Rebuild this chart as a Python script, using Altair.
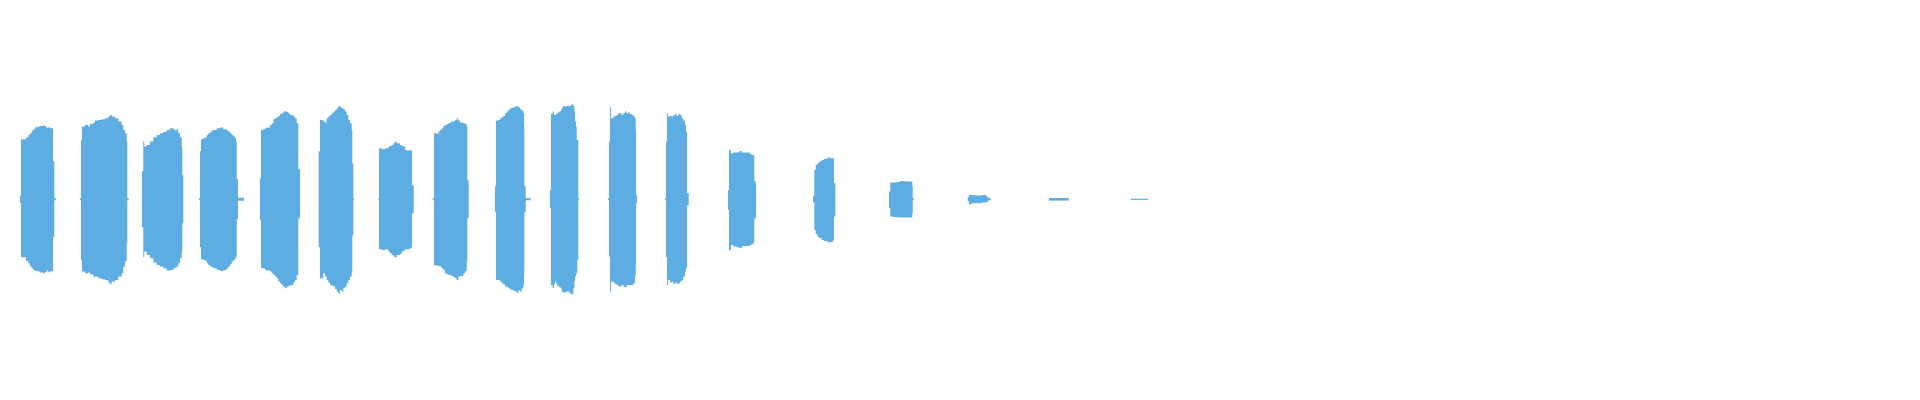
import altair as alt
import pandas as pd

# Waveform bursts.
# Each burst: start times of successive columns (step-after), upper and lower envelope magnitudes.
TIMES = [
    [20, 21, 26, 28.3, 30, 31.7, 33.3, 35, 38.3, 40, 43.3, 45, 46.7, 48.3, 50, 53, 54.3, 56],
    [80, 81, 82, 85, 88.3, 90, 93.3, 95, 98.3, 101.7, 105, 108.3, 110, 111.7, 115, 118.3, 121.7, 123.3, 125, 126.7, 127.3, 128.7],
    [142, 143.3, 144.3, 146.7, 150, 153.3, 156.7, 160, 163.3, 166.7, 170, 173.3, 175, 176.7, 178.3, 180, 181.7, 182.3, 183.3],
    [199, 200, 201, 203.3, 205, 206.7, 208.3, 210, 211.7, 213.3, 216.7, 220, 223.3, 226.7, 228.3, 230, 231.7, 233.3, 235, 236, 236.7, 238, 244],
    [260, 261, 263.3, 265, 266.7, 270, 271.7, 273.3, 275, 276.7, 278.3, 280, 281.7, 283.3, 285, 286.7, 288.3, 290, 291.7, 293.3, 295, 296.7, 298.3, 300],
    [318.7, 320, 323.3, 325, 326.7, 328.3, 330, 331.7, 333.3, 335, 336.7, 338.3, 340, 341.7, 343.3, 345, 346.7, 348.3, 350, 351.7, 352.3, 353.3, 354],
    [378.3, 379, 381.7, 385, 388.3, 390, 391.7, 393.3, 395, 396.7, 400, 401.7, 403.3, 405, 406.7, 410, 411.7, 412, 413.7],
    [432.7, 434, 436.7, 438.3, 440, 441.7, 443.3, 445, 446.7, 448.3, 450, 451.7, 453.3, 455, 456.7, 458.3, 460, 463.3, 465, 466.7, 467.3, 468.7],
    [495, 496, 498.3, 500, 501.7, 503.3, 505, 506.7, 508.3, 510, 511.7, 513.3, 515, 516.7, 518.3, 520, 521.7, 523.3, 524, 524.3, 525.7, 530.7],
    [550, 551, 552.7, 554, 555, 556, 557.3, 559.3, 560.7, 561.7, 562.7, 563.3, 565, 566.7, 569.3, 570.7, 571.7, 573.3, 574.3, 575, 576, 576.7, 577.3, 578.3, 579],
    [608, 609, 610, 611, 613.3, 615, 616.7, 618.3, 620, 621.7, 623.3, 625, 626.7, 628.3, 630, 631.7, 633.3, 635, 635.7, 636, 637],
    [665, 666, 667, 668, 670, 671.7, 673.3, 675, 676.7, 678.3, 680, 681.7, 683.3, 685, 686, 687, 688.7],
    [728, 729, 731, 733.3, 736.7, 739.3, 741.7, 743.3, 746.7, 750, 751.7, 753.3, 754.3, 756],
    [813, 814.3, 815.7, 817.3, 819, 821.7, 824, 826.7, 828.3, 830, 831.7, 833.3, 834, 835.3],
    [889, 890.3, 893.3, 896.7, 900, 903.3, 906.7, 911.7, 912.3, 912.7, 914],
    [967.7, 969, 971.7, 976.7, 981.7, 986, 987.7, 988.3, 990.7],
    [1049, 1068.7],
    [1131, 1148],
]
UPPER = [
    [3.7, 60, 61.7, 64.3, 66, 68.7, 70, 72, 72.7, 73.3, 74, 72.7, 71.3, 72, 71, 38, 1, 0],
    [1, 59, 72.7, 74.3, 72.7, 75.3, 76.7, 78.7, 79.3, 80, 81, 82.7, 84.3, 82.7, 81, 77.7, 74.3, 69.3, 66, 57.7, 1, 0],
    [28, 58, 52.7, 54.3, 57.7, 62, 64.3, 66, 67.3, 69.3, 71, 70, 68.7, 70, 66, 62, 52.7, 24, 0],
    [1, 48, 60, 61, 62, 64.3, 66, 67, 68.7, 69.3, 71, 71.7, 70, 68.7, 67.7, 66, 64.3, 62.7, 61, 57.7, 20, 1.5, 0],
    [21, 69.3, 70, 71, 71.7, 74.3, 76, 80, 81, 82, 83.3, 85.3, 86, 87.7, 88, 87.3, 86, 84.3, 84.3, 82.7, 81, 76, 30, 0],
    [48, 79.3, 77.7, 76.7, 81, 82.7, 84.3, 86, 87.7, 89.3, 91, 93.3, 92, 91, 90, 87.7, 84.3, 79.3, 76, 69.3, 36, 1, 0],
    [1, 51, 50, 51, 52.7, 53.3, 54.3, 56, 57.7, 56, 54.3, 53.3, 52.7, 49.3, 48.7, 49.3, 46.7, 14, 0],
    [1, 66, 65.3, 67.7, 69.3, 71, 73.3, 74.3, 75.3, 76, 76.7, 77.7, 77.7, 79.3, 81, 78.7, 76.7, 76, 75.3, 72.7, 19, 0],
    [13, 78.7, 79.3, 81, 82, 83.3, 86, 87.7, 89.3, 91, 91.3, 92, 92.7, 93.3, 92, 90, 88.7, 86, 74.3, 13, 1, 0],
    [9, 85.3, 87.7, 84.3, 84.3, 85.3, 86.7, 87.7, 89, 91, 93.3, 93, 92.7, 93.3, 93.3, 94.3, 95, 93.3, 87.7, 77.7, 72.7, 59.3, 59.3, 1, 0],
    [1, 57.7, 92, 81, 82.7, 83.3, 84.3, 86, 86, 84.3, 86, 87.7, 86, 86.7, 85.3, 84.3, 82.7, 81, 69.3, 4, 0],
    [1, 57.7, 86, 82.7, 83.3, 82.7, 84.3, 85.3, 83.3, 85.3, 84.3, 81, 78.7, 74.3, 67.7, 6, 0],
    [9.3, 49.3, 46, 46.7, 46.7, 48.3, 46.7, 46.7, 46.7, 45.3, 44.3, 44.3, 17.7, 0],
    [3, 29.3, 34.3, 36, 37.7, 39.3, 40.3, 41, 41.7, 41, 41, 41, 16, 0],
    [7.7, 16.7, 16.7, 17.3, 18.3, 18, 17.7, 17.7, 12.7, 1, 0],
    [2, 4.3, 4, 3.7, 4.3, 2.7, 2, 1, 0],
    [1.3, 0],
    [0.6, 0],
]
LOWER = [
    [3.7, 58, 61.7, 64, 67, 69, 70.7, 71.7, 72.3, 73.3, 74, 72.7, 71.3, 73, 72, 38, 1, 0],
    [1, 61, 72.3, 74, 73.3, 75, 77.3, 77.3, 79, 80, 80.7, 83.3, 84.7, 82.3, 80.7, 77.3, 74, 67.3, 62.3, 44, 1, 0],
    [28, 58, 52.3, 55.7, 59, 63.3, 65.7, 67.3, 69, 71.3, 70.7, 69, 68.3, 67.3, 64, 59, 52.3, 24, 0],
    [1, 48, 60, 60.7, 61.3, 64, 65.7, 67.3, 68, 69, 70.7, 71.7, 70.7, 69, 67.3, 65, 62.3, 60.7, 59, 57.3, 20, 1.5, 0],
    [21, 69, 69, 70.7, 71.3, 72.3, 74, 75.7, 77.3, 79, 82.3, 84, 85.7, 87.7, 89, 87.3, 86.7, 86, 85.7, 83.3, 80.7, 75.7, 19, 0],
    [48, 79, 74, 77.3, 80.7, 83.3, 85.7, 86.3, 87.3, 89.7, 92.3, 94, 90.7, 92.3, 89, 87.3, 84, 80.7, 77.3, 72.3, 36, 1, 0],
    [1, 50, 50.7, 50, 52.3, 54, 55.7, 57.3, 58, 55.7, 54.7, 52.3, 51.3, 50, 50, 49, 45.7, 14, 0],
    [1, 66.3, 66.3, 66.7, 67.3, 69, 70.7, 74, 75, 75.7, 76, 76.7, 77.7, 79, 80.7, 77.3, 76.7, 74, 72, 61.7, 19, 0],
    [13, 80.7, 80.7, 82.3, 84, 85, 87.3, 88, 89, 90, 90.7, 91.5, 92.3, 94, 91.3, 92.3, 89, 85.7, 74, 13, 1, 0],
    [9, 85.7, 89, 85, 82.3, 84, 86.7, 88, 89, 92.3, 93, 93.3, 92.7, 92.3, 94, 94.5, 95, 89, 82.3, 77.3, 75, 73.3, 60.7, 1, 0],
    [1, 57.3, 92.3, 82.3, 83.3, 84.7, 85.7, 87.3, 87.3, 85.7, 87.3, 88, 85.7, 85.7, 85.7, 85.7, 84, 77.3, 64, 4, 0],
    [1, 57.7, 85.7, 80.7, 83.3, 82.3, 84.7, 83.3, 84.7, 84, 82.3, 80.7, 77.3, 72.3, 69, 6, 0],
    [10.7, 50.7, 45.7, 47.3, 48, 48.7, 47, 46.7, 46.7, 45.7, 44.7, 43.3, 19, 0],
    [3, 30.7, 34.7, 37.3, 38.7, 40.7, 41.7, 42.3, 43.3, 42.7, 42.3, 40.7, 17.3, 0],
    [9, 17.3, 17.7, 18, 18.3, 18.3, 18.3, 18, 14, 1, 0],
    [2, 5, 4, 4, 3.3, 2.7, 2.3, 1, 0],
    [1.3, 0],
    [0.6, 0],
]

rows = []
for b, (ts, us, ls) in enumerate(zip(TIMES, UPPER, LOWER)):
    for t, u, l in zip(ts, us, ls):
        rows.append({"burst": b, "t": t, "upper": u, "lower": -l})
df = pd.DataFrame(rows)

chart = (
    alt.Chart(df)
    .mark_area(interpolate="step-after", color="#5DADE2", opacity=1)
    .encode(
        x=alt.X("t:Q", scale=alt.Scale(domain=[8, 1908], nice=False, zero=False), axis=None),
        y=alt.Y("upper:Q", scale=alt.Scale(domain=[-190.7, 191.3], nice=False, zero=False), axis=None),
        y2="lower:Q",
        detail="burst:N",
    )
    .properties(width=1900, height=382, padding=0, background="white")
    .configure_view(stroke=None)
)

chart.save("out.html", embed_options={"renderer": "svg", "actions": False})
